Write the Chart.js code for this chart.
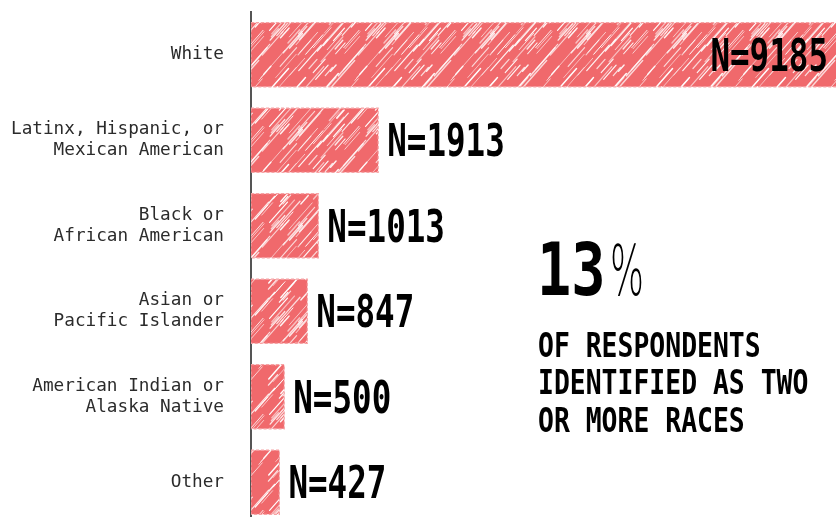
<!DOCTYPE html>
<html>
<head>
<meta charset="utf-8">
<script src="https://cdn.jsdelivr.net/npm/chart.js@4"></script>
<style>
  html, body { margin: 0; padding: 0; background: #fff; overflow: hidden; }
  #wrap { width: 836px; height: 525px; }
</style>
</head>
<body>
<div id="wrap"><canvas id="race-chart" width="836" height="525"></canvas></div>
<script>
// data
const categories = [
  'White',
  ['Latinx, Hispanic, or', 'Mexican American'],
  ['Black or', 'African American'],
  ['Asian or', 'Pacific Islander'],
  ['American Indian or', 'Alaska Native'],
  'Other'
];
const counts = [9185, 1913, 1013, 847, 500, 427];
const xMax = 8800; // the White bar runs off the right edge

const bigStat = '13';
const bigStatUnit = '%';
const statLines = ['OF RESPONDENTS', 'IDENTIFIED AS TWO', 'OR MORE RACES'];

const barColor = '#f0696c';

// sketchy white hatching used as the bar fill (seeded, so it is the same every run)
function hatchPattern() {
  const size = 96;
  const c = document.createElement('canvas');
  c.width = size; c.height = size;
  const g = c.getContext('2d');
  g.fillStyle = barColor;
  g.fillRect(0, 0, size, size);
  let seed = 11;
  const rnd = () => { seed = (seed * 16807) % 2147483647; return seed / 2147483647; };
  g.lineCap = 'round';
  for (let i = 0; i < 70; i++) {
    const x = rnd() * size, y = rnd() * size;
    const len = 8 + rnd() * 30;
    const a = 0.55 + rnd() * 0.45;
    g.strokeStyle = 'rgba(255,255,255,' + a.toFixed(2) + ')';
    g.lineWidth = 0.7 + rnd() * 0.9;
    for (let dx = -size; dx <= size; dx += size) {
      for (let dy = -size; dy <= size; dy += size) {
        g.beginPath();
        g.moveTo(x + dx, y + dy);
        g.lineTo(x + dx + len * 0.66, y + dy - len * 0.75);
        g.stroke();
      }
    }
  }
  return g.createPattern(c, 'repeat');
}

function condensed(ctx, text, x, baseline, size, sx, align) {
  ctx.save();
  ctx.font = 'bold ' + size + 'px "DejaVu Sans Mono"';
  ctx.textAlign = align || 'left';
  ctx.textBaseline = 'alphabetic';
  ctx.fillStyle = '#000';
  ctx.translate(x, baseline);
  ctx.scale(sx, 1);
  ctx.fillText(text, 0, 0);
  ctx.restore();
}

// dashed pink outline round every bar
const barOutline = {
  id: 'barOutline',
  afterDatasetsDraw(chart) {
    const ctx = chart.ctx;
    const area = chart.chartArea;
    ctx.save();
    ctx.beginPath();
    ctx.rect(area.left, area.top - 2, area.right - area.left + 2, area.bottom - area.top + 4);
    ctx.clip();
    ctx.strokeStyle = '#f6a3a5';
    ctx.lineWidth = 1.2;
    ctx.setLineDash([3, 2]);
    chart.getDatasetMeta(0).data.forEach(bar => {
      const left = Math.min(bar.base, bar.x);
      const w = Math.abs(bar.x - bar.base);
      ctx.strokeRect(left, bar.y - bar.height / 2, w, bar.height);
    });
    ctx.restore();
  }
};

// N= labels next to (or inside) the bars
const countLabels = {
  id: 'countLabels',
  afterDraw(chart) {
    const ctx = chart.ctx;
    const area = chart.chartArea;
    const size = 44;
    chart.getDatasetMeta(0).data.forEach((bar, i) => {
      const text = 'N=' + counts[i];
      const baseline = bar.y + size * 0.729 / 2;
      if (bar.x > area.right - 120) {
        condensed(ctx, text, area.right - 8, baseline, size, 0.74, 'right');
      } else {
        condensed(ctx, text, bar.x + 9, baseline, size, 0.74, 'left');
      }
    });
  }
};

// the 13% callout
const callout = {
  id: 'callout',
  afterDraw(chart) {
    const ctx = chart.ctx;
    condensed(ctx, bigStat, 537, 295, 73, 0.78, 'left');

    ctx.save();
    ctx.font = '300 70px "DejaVu Sans"';
    ctx.fillStyle = '#000';
    ctx.textBaseline = 'alphabetic';
    const w = ctx.measureText(bigStatUnit).width;
    ctx.translate(610, 295);
    ctx.scale(34 / w, 1);
    ctx.fillText(bigStatUnit, 0, 0);
    ctx.restore();

    statLines.forEach((line, i) => {
      condensed(ctx, line, 538, 357 + i * 37.3, 34, 0.777, 'left');
    });
  }
};

new Chart(document.getElementById('race-chart'), {
  type: 'bar',
  data: {
    labels: categories,
    datasets: [{
      label: 'Respondents',
      data: counts,
      backgroundColor: hatchPattern(),
      borderWidth: 0,
      barPercentage: 0.75,
      categoryPercentage: 1.0
    }]
  },
  options: {
    indexAxis: 'y',
    responsive: false,
    animation: false,
    layout: { padding: { top: 12, right: 0, bottom: 0, left: 0 } },
    plugins: {
      legend: { display: false },
      tooltip: { enabled: false }
    },
    scales: {
      x: {
        display: false,
        min: 0,
        max: xMax
      },
      y: {
        z: 1,
        grid: { display: false, drawTicks: false },
        border: { display: true, color: '#555', width: 2 },
        ticks: {
          autoSkip: false,
          padding: 27,
          color: '#2b2b2b',
          font: { family: '"DejaVu Sans Mono", monospace', size: 17.7, lineHeight: 1.18 }
        },
        afterFit(scale) {
          scale.width = 251;
          scale.paddingTop = 0;
          scale.paddingBottom = 0;
        }
      }
    }
  },
  plugins: [barOutline, countLabels, callout]
});
</script>
</body>
</html>
